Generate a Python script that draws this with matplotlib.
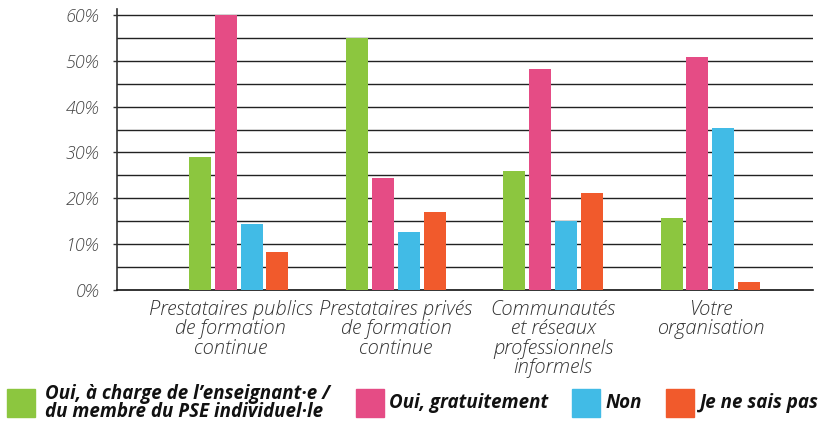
import matplotlib
matplotlib.use("Agg")
import matplotlib.pyplot as plt
import numpy as np
from matplotlib.patches import Rectangle

categories = ["Prestataires publics\nde formation\ncontinue",
              "Prestataires privés\nde formation\ncontinue",
              "Communautés\net réseaux\nprofessionnels\ninformels",
              "Votre\norganisation"]
series_names = ["Oui, à charge de l’enseignant·e /\ndu membre du PSE individuel·le",
                "Oui, gratuitement", "Non", "Je ne sais pas"]
oui_charge = [29.0, 55.0, 26.0, 15.7]
oui_gratuit = [60.0, 24.4, 48.2, 50.8]
non = [14.4, 12.7, 15.1, 35.3]
ne_sais_pas = [8.3, 17.0, 21.2, 1.7]
yticks = [0, 10, 20, 30, 40, 50, 60]
ytick_labels = ["0%", "10%", "20%", "30%", "40%", "50%", "60%"]

colors = ["#8CC63F", "#E54C85", "#41BBE6", "#F15A2C"]
series = [oui_charge, oui_gratuit, non, ne_sais_pas]

plt.rcParams['font.family'] = ['Open Sans', 'DejaVu Sans']

fig = plt.figure(figsize=(8.24, 4.24), dpi=100)
ax = fig.add_axes([117/824, (424-290)/424, (813-117)/824, (290-9)/424])

x = np.arange(len(categories))
w = 0.14
step = 0.164
for i, (vals, c) in enumerate(zip(series, colors)):
    ax.bar(x + (i - 1.5) * step, vals, width=w, color=c, zorder=3)

for yv in np.arange(5, 61, 5):
    ax.axhline(yv, color="#222222", lw=1.0, zorder=1)

ax.set_xlim(-0.774, 3.653)
ax.set_ylim(0, 61.3)
ax.set_yticks(yticks)
ax.set_yticklabels(ytick_labels, fontstyle='italic', fontsize=13, color="#444444",
                   fontweight='light')
ax.tick_params(axis='y', length=3, width=1, color="#333333", pad=10)
ax.set_xticks(x - 0.05 * np.array([1, 0, 0, 0]))
ax.set_xticklabels(categories, fontstyle='italic', fontsize=14.5, color="#333333",
                   linespacing=0.97, fontweight='light')
ax.tick_params(axis='x', length=0, pad=7)
for s in ["top", "right"]:
    ax.spines[s].set_visible(False)
ax.spines["left"].set_color("#333333")
ax.spines["left"].set_linewidth(1.2)
ax.spines["bottom"].set_color("#111111")
ax.spines["bottom"].set_linewidth(1.2)

# legend
W, H = 824, 424
sq = [(7, 389, 28), (356, 389, 28), (572, 389, 28), (666, 389, 28)]
tx = [45, 389, 606, 700]
for (sx, sy, ss), t, c, name in zip(sq, tx, colors, series_names):
    fig.patches.append(Rectangle((sx / W, 1 - (sy + ss) / H), ss / W, ss / H,
                                 transform=fig.transFigure, color=c))
    fig.text(t / W, 1 - 403 / H, name, fontsize=13.5, fontweight='bold', fontstyle='italic',
             va='center', ha='left', color="#111111", linespacing=0.86)

fig.savefig("out.png", dpi=100)
